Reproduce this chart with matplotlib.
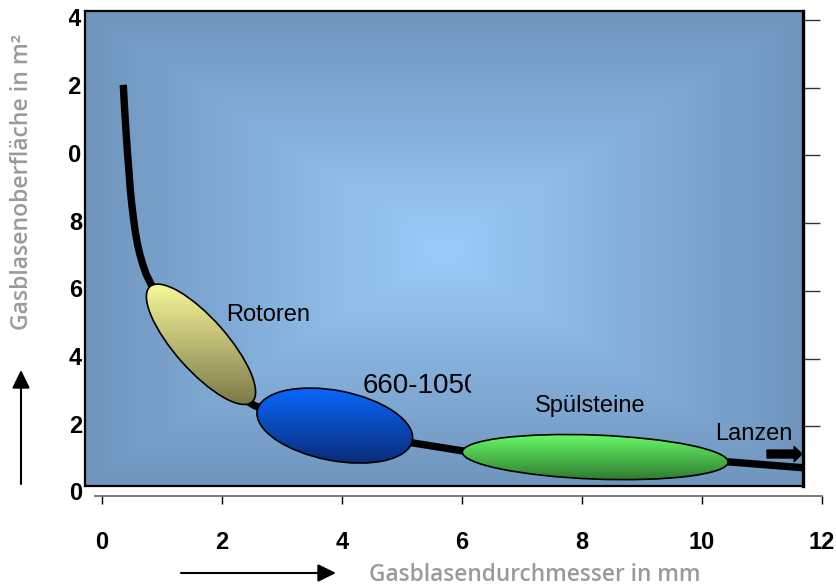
import numpy as np
import matplotlib
matplotlib.use('Agg')
import matplotlib.pyplot as plt
from matplotlib.patches import Ellipse
from matplotlib.transforms import Affine2D, ScaledTranslation, Bbox, TransformedBbox, blended_transform_factory
from matplotlib.colors import LinearSegmentedColormap, to_rgb

# Kurve: Durchmesser in mm, Oberflaeche
durchmesser = [0.355, 0.370, 0.388, 0.407, 0.428, 0.45, 0.472, 0.498, 0.528, 0.558, 0.595, 0.633,
               0.683, 0.733, 0.80, 0.92, 1.30, 1.72, 2.13, 2.55, 3.13, 3.88, 4.63, 5.17, 6.02,
               8.22, 10.43, 11.72]
oberflaeche = [12.08, 11.58, 11.05, 10.54, 10.01, 9.51, 8.98, 8.53, 8.09, 7.71, 7.35, 7.06,
               6.76, 6.50, 6.26, 5.82, 4.70, 3.75, 3.05, 2.60, 2.33, 1.98, 1.65, 1.51, 1.27,
               1.09, 0.95, 0.77]

# Bereiche (Ellipsen): Mitte x, Mitte y
bereich_x = [1.65, 3.88, 8.22]
bereich_y = [4.42, 2.02, 1.09]

yticks = [0, 2, 4, 6, 8, 10, 12, 14]
xticks = [0, 2, 4, 6, 8, 10, 12]

plt.rcParams['font.family'] = ['Liberation Sans', 'DejaVu Sans']

fig = plt.figure(figsize=(8.37, 5.88), dpi=100)
W, H = 837, 588
ax = fig.add_axes([85 / W, (H - 486) / H, (803 - 85) / W, (486 - 11) / H])
x0, x1 = -0.283, 11.683
y0, y1 = 0.236, 14.26
ax.set_xticks([])
ax.set_yticks(yticks[1:])
ax.set_xlim(x0, x1)
ax.set_ylim(y0, y1)

# hintergrund, rechteckiger verlauf von der mitte
c_mid = np.array(to_rgb('#9bcbfa'))
c_rand = np.array(to_rgb('#6f95bd'))
u = np.abs(np.linspace(-1, 1, 360))[None, :]
v = np.abs(np.linspace(-1, 1, 240))[:, None]
t = np.maximum(u, v)[..., None]
bg = c_mid + (c_rand - c_mid) * t
ax.imshow(bg, extent=(x0, x1, y0, y1), aspect='auto', zorder=0, interpolation='bilinear')

ax.plot(durchmesser, oberflaeche, color='black', lw=5.3, solid_capstyle='butt',
        solid_joinstyle='round', zorder=2)
ax.set_xlim(x0, x1)
ax.set_ylim(y0, y1)

px_x = ax.transData.transform((1, 0))[0] - ax.transData.transform((0, 0))[0]
px_y = ax.transData.transform((0, 1))[1] - ax.transData.transform((0, 0))[1]


def gradient_ellipse(cx, cy, w, h, ang, c_top, c_bot):
    tr = Affine2D().scale(fig.dpi / 100) + ScaledTranslation(cx, cy, ax.transData)
    e = Ellipse((0, 0), w, h, angle=ang, transform=tr, facecolor='none',
                edgecolor='black', lw=1.2, zorder=4)
    ax.add_patch(e)
    th = np.radians(ang)
    hx = np.sqrt((w / 2 * np.cos(th)) ** 2 + (h / 2 * np.sin(th)) ** 2) / px_x
    hy = np.sqrt((w / 2 * np.sin(th)) ** 2 + (h / 2 * np.cos(th)) ** 2) / px_y
    cmap = LinearSegmentedColormap.from_list('g', [c_bot, c_top])
    grad = np.linspace(0, 1, 256).reshape(-1, 1)
    im = ax.imshow(grad, extent=(cx - hx, cx + hx, cy - hy, cy + hy), origin='lower',
                   cmap=cmap, aspect='auto', zorder=3)
    im.set_clip_path(e)


gradient_ellipse(bereich_x[0], bereich_y[0], 154, 52, -48.5, '#f8f89a', '#7d7a4a')
gradient_ellipse(bereich_x[1], bereich_y[1], 158, 70, -11, '#0868ff', '#0a2c78')
gradient_ellipse(bereich_x[2], bereich_y[2], 266, 44, -2.2, '#68fb68', '#2e7a2e')
ax.set_xlim(x0, x1)
ax.set_ylim(y0, y1)

ax.text(2.067, 5.11, 'Rotoren', fontsize=17, zorder=5)
t660 = ax.text(4.35, 2.98, '660-1050', fontsize=20, zorder=5, clip_on=True)
t660.set_clip_box(TransformedBbox(Bbox.from_extents(0, 0, 6.15, 14), ax.transData))
ax.text(7.22, 2.42, 'Spülsteine', fontsize=17, zorder=5)
ax.text(10.22, 1.59, 'Lanzen', fontsize=17, zorder=5)
ax.annotate('', xy=(11.667, 1.18), xytext=(11.083, 1.18),
            arrowprops=dict(arrowstyle='simple,head_width=1.8,head_length=0.95,tail_width=0.95',
                            color='black', mutation_scale=6, shrinkA=0, shrinkB=0), zorder=5)

# rahmen und ticks rechts
for s in ['left', 'top', 'bottom']:
    ax.spines[s].set_linewidth(1.6)
ax.spines['right'].set_linewidth(2.4)
ax.yaxis.set_ticks_position('right')
ax.tick_params(axis='y', direction='out', length=12.5, width=1, color='#333333', labelright=False)

# y-beschriftung, links abgeschnitten wie im original
trans = blended_transform_factory(ax.transAxes, ax.transData)
clip_links = TransformedBbox(Bbox.from_extents(68.5 / W, 0, 1, 1), fig.transFigure)
for yv in yticks:
    tl = fig.text(-0.004, yv, str(yv), transform=trans, ha='right', va='center',
                  fontsize=17, fontweight='bold', clip_on=True)
    tl.set_clip_box(clip_links)

# x-achse darunter
ax2 = fig.add_axes([95 / W, (H - 496) / H, (822 - 95) / W, 0.01])
ax2.patch.set_visible(False)
for s in ['left', 'top', 'right']:
    ax2.spines[s].set_visible(False)
ax2.spines['bottom'].set_color('#707070')
ax2.spines['bottom'].set_linewidth(1.3)
ax2.set_yticks([])
ax2.set_xticks(xticks)
ax2.set_xticklabels([str(v) for v in xticks], fontsize=17, fontweight='bold')
ax2.set_xlim(-0.1167, 12.0)
ax2.tick_params(axis='x', direction='out', length=6, width=1, color='black', pad=19)

# achsbeschriftungen
fig.text(535 / W, (H - 575) / H, 'Gasblasendurchmesser in mm', family=['Open Sans', 'DejaVu Sans'],
         fontsize=16.3, fontweight='semibold', color='#9a9a9a', ha='center', va='center')
fig.text(22 / W, (H - 182) / H, 'Gasblasenoberfläche in m²', family=['Open Sans', 'DejaVu Sans'],
         fontsize=16.6, fontweight='semibold', color='#9a9a9a', ha='center', va='center', rotation=90)

ax.annotate('', xy=(21, H - 370), xytext=(21, H - 484), xycoords='figure pixels',
            arrowprops=dict(arrowstyle='-|>,head_length=0.55,head_width=0.27', lw=1.5,
                            color='black', mutation_scale=20, shrinkA=0, shrinkB=0))
ax.annotate('', xy=(336, H - 573), xytext=(181, H - 573), xycoords='figure pixels',
            arrowprops=dict(arrowstyle='-|>,head_length=0.55,head_width=0.27', lw=1.5,
                            color='black', mutation_scale=20, shrinkA=0, shrinkB=0))

fig.savefig('out.png', dpi=100)
